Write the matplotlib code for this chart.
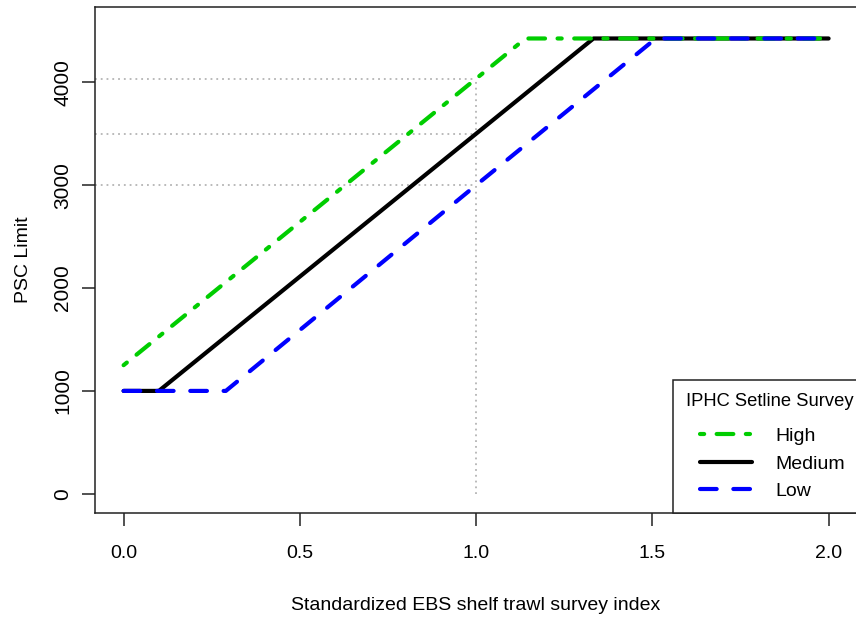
import matplotlib
matplotlib.use('Agg')
import matplotlib.pyplot as plt
from matplotlib.legend_handler import HandlerLine2D

# PSC limit against the standardized EBS index, one line per IPHC setline survey state
ebs_high = [0.0, 1.0, 1.14, 2.0]
psc_high = [1250, 4035, 4426, 4426]
ebs_med = [0.0, 0.1, 1.0, 1.333, 2.0]
psc_med = [1000, 1000, 3500, 4426, 4426]
ebs_low = [0.0, 0.29, 1.0, 1.51, 2.0]
psc_low = [1000, 1000, 3000, 4426, 4426]

# dotted guides at index = 1
ref_x = 1.0
ref_y = [4035, 3500, 3000]

x_ticks = [0.0, 0.5, 1.0, 1.5, 2.0]
x_labels = ['0.0', '0.5', '1.0', '1.5', '2.0']
y_ticks = [0, 1000, 2000, 3000, 4000]
y_labels = ['0', '1000', '2000', '3000', '4000']

plt.rcParams['font.family'] = ['Liberation Sans', 'DejaVu Sans']
fs = 14

W, H = 856, 617
fig = plt.figure(figsize=(W / 100, H / 100), dpi=100)
ax = fig.add_axes([95.4 / W, 1 - 512.5 / H, (856.8 - 95.4) / W, (512.5 - 7) / H])
ax.set_xlim(-0.08, 2.08)
ax.set_ylim(-182, 4732)

ax.hlines(ref_y, -0.08, ref_x, colors='#b4b4b4', lw=1.3, linestyles=(0, (1, 2.2)), zorder=1)
ax.vlines(ref_x, 0, max(ref_y), colors='#b4b4b4', lw=1.3, linestyles=(0, (1, 2.2)), zorder=1)

# black under green under blue, like the original
l_med, = ax.plot(ebs_med, psc_med, color='black', lw=3, solid_capstyle='round', zorder=2, label='Medium')
l_high, = ax.plot(ebs_high, psc_high, color='#00cd00', lw=3, dashes=(1, 3, 4, 3),
                  dash_capstyle='round', zorder=3, label='High')
l_low, = ax.plot(ebs_low, psc_low, color='blue', lw=3, dashes=(4, 4),
                 dash_capstyle='round', zorder=4, label='Low')

for s in ax.spines.values():
    s.set_linewidth(1.1)
    s.set_color('#222222')

ax.set_xticks(x_ticks)
ax.set_xticklabels(x_labels)
ax.set_yticks(y_ticks)
ax.set_yticklabels(y_labels, rotation=90, va='center')
ax.tick_params(axis='both', direction='out', length=9.5, width=1.1, color='#222222')
ax.tick_params(axis='x', labelsize=fs, pad=14)
ax.tick_params(axis='y', labelsize=15, pad=7)

ax.set_xlabel('Standardized EBS shelf trawl survey index', fontsize=fs)
ax.xaxis.set_label_coords(0.5, (512.5 - 606) / 505.5)
ax.xaxis.label.set_va('center')
ax.set_ylabel('PSC Limit', fontsize=fs)
ax.yaxis.set_label_coords((23 - 95.4) / 761.4, 0.5)
ax.yaxis.label.set_va('center')

hm = {h: HandlerLine2D(xpad=0.74) for h in (l_high, l_med, l_low)}
leg = ax.legend([l_high, l_med, l_low], ['High', 'Medium', 'Low'],
                title='IPHC Setline Survey', title_fontsize=13.2, fontsize=fs,
                loc='lower left', bbox_to_anchor=((673 - 95.4) / 761.4, 0.0),
                borderaxespad=0, borderpad=0.65, handlelength=3.42, handletextpad=1.2,
                labelspacing=0.5, alignment='left', fancybox=False, framealpha=1,
                edgecolor='#222222', handler_map=hm)
leg.get_frame().set_linewidth(1.1)
# a bit more room between title and entries
leg._legend_box.sep = 0.9 * fs

fig.savefig('out.png', dpi=100)
